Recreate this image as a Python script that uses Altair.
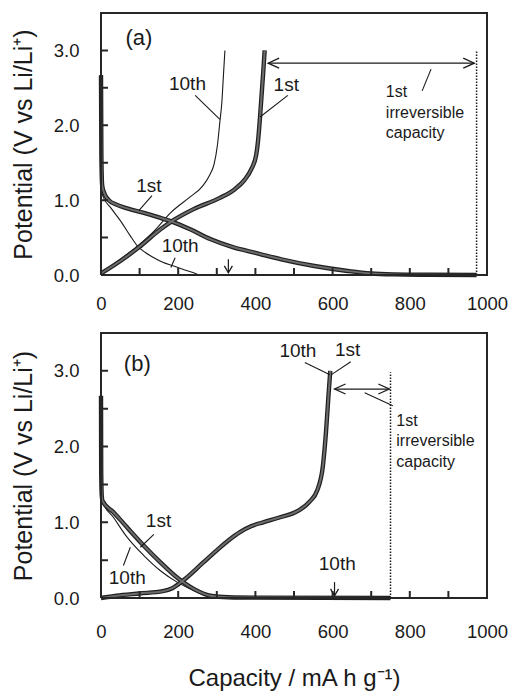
import altair as alt
import pandas as pd

# ---------------- data ----------------
X_TICKS = [0, 100, 200, 300, 400, 500, 600, 700, 800, 900, 1000]
Y_TICKS = [0.0, 0.5, 1.0, 1.5, 2.0, 2.5, 3.0]
FRAME_CAP = [0, 1000]
FRAME_V = [0.0, 3.5]
X_TITLE = "Capacity / mA h g\u207b\u00b9)"
Y_TITLE = "Potential  (V vs Li/Li\u207a)"

# Panel (a)
A_DIS1_CAP = [0, 1, 3, 8, 20, 40, 68, 111, 150, 180, 231, 283, 343, 381, 412, 467, 553, 639, 699, 760, 850, 973]
A_DIS1_V = [2.67, 1.6, 1.2, 1.1, 1.0, 0.94, 0.89, 0.83, 0.77, 0.72, 0.61, 0.48, 0.37, 0.32, 0.28, 0.21, 0.12, 0.054, 0.02, 0.008, 0.003, 0.0]
A_CHG1_CAP = [0, 51, 98, 154, 184, 240, 308, 345, 372, 390, 402, 407, 412, 416, 420, 424]
A_CHG1_V = [0.02, 0.19, 0.37, 0.61, 0.72, 0.88, 1.03, 1.14, 1.27, 1.42, 1.6, 1.8, 2.11, 2.4, 2.69, 3.0]
A_DIS10_CAP = [0, 5, 25, 51, 75, 94, 115, 137, 160, 188, 215, 240, 254]
A_DIS10_V = [1.3, 1.05, 0.9, 0.72, 0.53, 0.39, 0.3, 0.23, 0.17, 0.12, 0.07, 0.03, 0.0]
A_CHG10_CAP = [0, 50, 100, 140, 180, 230, 262, 282, 293, 302, 308, 313, 317, 321]
A_CHG10_V = [0.02, 0.21, 0.41, 0.6, 0.83, 1.04, 1.18, 1.34, 1.48, 1.75, 2.05, 2.3, 2.65, 3.0]

# Panel (b)
B_DIS1_CAP = [0, 0.5, 2, 4, 33, 68, 111, 154, 197, 240, 283, 330, 400, 750]
B_DIS1_V = [2.67, 1.7, 1.35, 1.28, 1.13, 0.93, 0.69, 0.47, 0.27, 0.12, 0.03, 0.01, 0.005, 0.0]
B_DIS10_CAP = [0, 3, 33, 68, 111, 154, 197, 240, 283, 330, 600]
B_DIS10_V = [1.4, 1.28, 1.06, 0.80, 0.56, 0.36, 0.21, 0.10, 0.02, 0.008, 0.0]
B_CHG_CAP = [0, 40, 100, 160, 185, 215, 265, 300, 330, 360, 390, 420, 460, 510, 540, 560, 575, 583, 589, 594]
B_CHG_V = [0.0, 0.03, 0.06, 0.09, 0.13, 0.24, 0.47, 0.63, 0.76, 0.87, 0.95, 1.0, 1.06, 1.15, 1.27, 1.42, 1.75, 2.2, 2.65, 3.0]

# Annotations (a)
A_PANEL = ["(a)"]; A_PANEL_CAP = [98]; A_PANEL_V = [3.16]
A_LBL = ["10th", "1st", "1st", "10th"]
A_LBL_CAP = [224, 480, 124, 205]
A_LBL_V = [2.55, 2.54, 1.19, 0.39]
A_LEAD_X1 = [244, 484, 132, 192, 832]
A_LEAD_Y1 = [2.40, 2.40, 1.06, 0.23, 2.46]
A_LEAD_X2 = [308, 412, 98, 181, 855]
A_LEAD_Y2 = [2.08, 2.11, 0.86, 0.10, 2.75]
A_IRR_CAP = [738]; A_IRR_V = [2.44]
A_ARROW = [433, 967, 2.83]          # x from, x to, V
A_DOT = [973, 0.0, 3.0]             # x, V from, V to
A_DOWN = [330, 0.21, 0.03]          # x, V from, V to

# Annotations (b)
B_PANEL = ["(b)"]; B_PANEL_CAP = [94]; B_PANEL_V = [3.09]
B_LBL = ["10th", "1st", "1st", "10th", "10th"]
B_LBL_CAP = [510, 639, 149, 68, 612]
B_LBL_V = [3.26, 3.27, 1.02, 0.27, 0.45]
B_LEAD_X1 = [528, 647, 137, 58, 683]
B_LEAD_Y1 = [3.11, 3.12, 0.84, 0.43, 2.71]
B_LEAD_X2 = [593, 597, 102, 76, 756]
B_LEAD_Y2 = [2.95, 2.95, 0.67, 0.67, 2.54]
B_IRR_CAP = [765]; B_IRR_V = [2.34]
B_ARROW = [605, 747, 2.76]
B_DOT = [750, 0.0, 2.98]
B_DOWN = [605, 0.21, 0.03]

IRR_TEXT = "1st\nirreversible\ncapacity"

# ---------------- styling ----------------
FONT = "Liberation Sans"
INK = "#1a1a1a"
FRAME_INK = "#262626"
PLOT_W = 386
TICK_PX = 7
X_SCALE = alt.Scale(domain=[0, 1000], nice=False, zero=False)
Y_SCALE = alt.Scale(domain=[0, 3.5], nice=False, zero=False)
LEFT_HEAD = "M2.2,-1L0,0L2.2,1"
RIGHT_HEAD = "M-2.2,-1L0,0L-2.2,1"
DOWN_HEAD = "M-1,-1.7L0,0L1,-1.7"


def curves_df(pairs):
    rows = []
    for name, caps, vs in pairs:
        for i, (c, v) in enumerate(zip(caps, vs)):
            rows.append({"cap": c, "V": v, "curve": name, "idx": i})
    return pd.DataFrame(rows)


def frame_path(height):
    """Closed outline of the plot area with the inward tick marks folded into it."""
    x0, x1 = FRAME_CAP
    y0, y1 = FRAME_V
    tick_v = TICK_PX * (y1 - y0) / height
    tick_c = TICK_PX * (x1 - x0) / PLOT_W
    pts = [(x0, y0)]
    for t in Y_TICKS:
        if y0 < t < y1:
            pts += [(x0, t), (x0 + tick_c, t), (x0, t)]
    pts += [(x0, y1), (x1, y1), (x1, y0)]
    for t in reversed(X_TICKS):
        if x0 < t < x1:
            pts += [(t, y0), (t, y0 + tick_v), (t, y0)]
    pts += [(x0, y0)]
    return pd.DataFrame({"cap": [p[0] for p in pts], "V": [p[1] for p in pts],
                         "idx": list(range(len(pts)))})


def make_panel(thin, thick, panel_lbl, lbls, leads, irr, arrow, dot, down,
               show_xtitle, xlabel_pad, height):
    x_axis = alt.Axis(values=X_TICKS, format="d",
                      labelExpr="datum.value % 200 === 0 ? datum.label : ''",
                      ticks=False, tickSize=0,
                      labelPadding=xlabel_pad, labelFontSize=18.5, labelColor=INK,
                      labelFont=FONT, labelFlush=False, labelOverlap=False,
                      domain=False, grid=False,
                      title=X_TITLE if show_xtitle else None,
                      titleFontSize=24, titleFont=FONT, titleFontWeight="normal",
                      titleColor=INK, titlePadding=26)
    y_axis = alt.Axis(values=Y_TICKS,
                      labelExpr="datum.value % 1 === 0 ? format(datum.value, '.1f') : ''",
                      ticks=False, tickSize=0,
                      labelPadding=22, labelFontSize=18.5, labelColor=INK,
                      labelFont=FONT, labelFlush=False, labelOverlap=False,
                      domain=False, grid=False,
                      title=Y_TITLE, titleFontSize=25, titleFont=FONT,
                      titleFontWeight="normal", titleColor=INK, titlePadding=17)

    def X(f):
        return alt.X(f, type="quantitative", scale=X_SCALE, axis=x_axis)

    def Y(f):
        return alt.Y(f, type="quantitative", scale=Y_SCALE, axis=y_axis)

    frame = alt.Chart(frame_path(height)).mark_line(color=FRAME_INK, strokeWidth=2).encode(
        x=X("cap"), y=Y("V"), order="idx:Q")

    lead_df = pd.DataFrame({"x1": leads[0], "y1": leads[1], "x2": leads[2], "y2": leads[3]})
    lead_l = alt.Chart(lead_df).mark_rule(color=INK, strokeWidth=1.1).encode(
        x=X("x1"), y=Y("y1"), x2="x2", y2="y2")

    thin_df = curves_df(thin)
    thick_df = curves_df(thick)

    thin_l = alt.Chart(thin_df).mark_line(color=INK, strokeWidth=1.1, interpolate="monotone").encode(
        x=X("cap"), y=Y("V"), detail="curve:N", order="idx:Q")
    thick_o = alt.Chart(thick_df).mark_line(color="#202020", strokeWidth=4.4, interpolate="monotone").encode(
        x=X("cap"), y=Y("V"), detail="curve:N", order="idx:Q")
    thick_i = alt.Chart(thick_df).mark_line(color="#6c6c6c", strokeWidth=2.0, interpolate="monotone").encode(
        x=X("cap"), y=Y("V"), detail="curve:N", order="idx:Q")

    dot_df = pd.DataFrame({"x": [dot[0]], "v1": [dot[1]], "v2": [dot[2]]})
    dot_l = alt.Chart(dot_df).mark_rule(color=INK, strokeWidth=1.5, strokeDash=[1.5, 1.5]).encode(
        x=X("x"), y=Y("v1"), y2="v2")

    arr_df = pd.DataFrame({"x1": [arrow[0]], "x2": [arrow[1]], "v": [arrow[2]]})
    arr_l = alt.Chart(arr_df).mark_rule(color=INK, strokeWidth=1.2).encode(
        x=X("x1"), x2="x2", y=Y("v"))
    lh = alt.Chart(arr_df).mark_point(shape=LEFT_HEAD, size=100, filled=False, color=INK,
                                      strokeWidth=1.3, opacity=1).encode(x=X("x1"), y=Y("v"))
    rh = alt.Chart(arr_df).mark_point(shape=RIGHT_HEAD, size=100, filled=False, color=INK,
                                      strokeWidth=1.3, opacity=1).encode(x=X("x2"), y=Y("v"))

    down_df = pd.DataFrame({"x": [down[0]], "v1": [down[1]], "v2": [down[2]]})
    down_l = alt.Chart(down_df).mark_rule(color=INK, strokeWidth=1.2).encode(
        x=X("x"), y=Y("v1"), y2="v2")
    dh = alt.Chart(down_df).mark_point(shape=DOWN_HEAD, size=64, filled=False, color=INK,
                                       strokeWidth=1.3, opacity=1).encode(x=X("x"), y=Y("v2"))

    lbl_df = pd.DataFrame({"t": lbls[0], "cap": lbls[1], "V": lbls[2]})
    lbl_l = alt.Chart(lbl_df).mark_text(font=FONT, fontSize=19, color=INK, align="center",
                                        baseline="middle").encode(x=X("cap"), y=Y("V"), text="t:N")

    pan_df = pd.DataFrame({"t": panel_lbl[0], "cap": panel_lbl[1], "V": panel_lbl[2]})
    pan_l = alt.Chart(pan_df).mark_text(font=FONT, fontSize=22, color=INK, align="center",
                                        baseline="middle").encode(x=X("cap"), y=Y("V"), text="t:N")

    irr_df = pd.DataFrame({"t": [IRR_TEXT], "cap": irr[0], "V": irr[1]})
    irr_l = alt.Chart(irr_df).mark_text(font=FONT, fontSize=16, color=INK, align="left",
                                        baseline="middle", lineBreak="\n", lineHeight=20.5).encode(
        x=X("cap"), y=Y("V"), text="t:N")

    return alt.layer(thin_l, thick_o, thick_i, frame, lead_l, dot_l, arr_l, lh, rh,
                     down_l, dh, lbl_l, pan_l, irr_l).properties(width=PLOT_W, height=height)


panel_a = make_panel(
    thin=[("a10d", A_DIS10_CAP, A_DIS10_V), ("a10c", A_CHG10_CAP, A_CHG10_V)],
    thick=[("a1d", A_DIS1_CAP, A_DIS1_V), ("a1c", A_CHG1_CAP, A_CHG1_V)],
    panel_lbl=(A_PANEL, A_PANEL_CAP, A_PANEL_V),
    lbls=(A_LBL, A_LBL_CAP, A_LBL_V),
    leads=(A_LEAD_X1, A_LEAD_Y1, A_LEAD_X2, A_LEAD_Y2),
    irr=(A_IRR_CAP, A_IRR_V), arrow=A_ARROW, dot=A_DOT, down=A_DOWN,
    show_xtitle=False, xlabel_pad=19, height=262)

panel_b = make_panel(
    thin=[("b10d", B_DIS10_CAP, B_DIS10_V)],
    thick=[("b1d", B_DIS1_CAP, B_DIS1_V), ("bc", B_CHG_CAP, B_CHG_V)],
    panel_lbl=(B_PANEL, B_PANEL_CAP, B_PANEL_V),
    lbls=(B_LBL, B_LBL_CAP, B_LBL_V),
    leads=(B_LEAD_X1, B_LEAD_Y1, B_LEAD_X2, B_LEAD_Y2),
    irr=(B_IRR_CAP, B_IRR_V), arrow=B_ARROW, dot=B_DOT, down=B_DOWN,
    show_xtitle=True, xlabel_pad=24, height=265)

chart = alt.vconcat(panel_a, panel_b, spacing=58, bounds="flush").properties(
    padding={"left": 3, "top": 1, "right": 0, "bottom": 0}
).configure_view(strokeOpacity=0)

chart.save("out.html", embed_options={"renderer": "svg", "actions": False})
